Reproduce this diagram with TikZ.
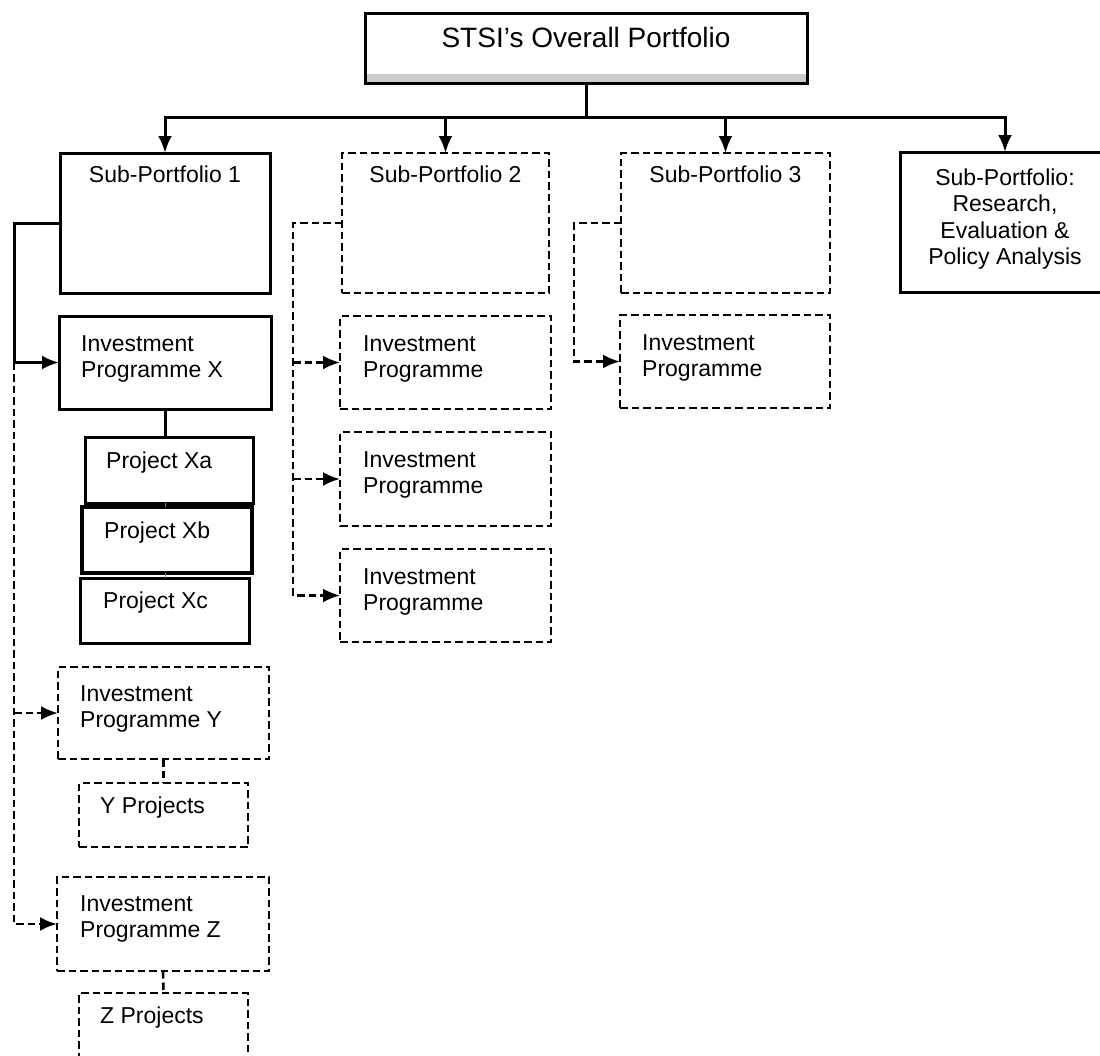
\documentclass[tikz,border=0pt]{standalone}
\usepackage{fontspec}
\setmainfont{Liberation Sans}
\usetikzlibrary{arrows.meta}
\begin{document}
\begin{tikzpicture}[x=1pt,y=-1pt,
  bx/.style 2 args={rectangle, inner sep=0pt, outer sep=0pt, minimum width=#1, minimum height=#2},
  solidln/.style={draw=black, line width=3pt},
  dashln/.style={draw=black, line width=2.6pt, dash pattern=on 7.5pt off 4pt},
  arr/.style={-{Latex[length=17pt,width=14pt]}},
  txt/.style={inner sep=0pt, font=\fontsize{23pt}{26.5pt}\selectfont, align=left},
  ctxt/.style={inner sep=0pt, font=\fontsize{23pt}{26.5pt}\selectfont, align=center}
]
\useasboundingbox (0,0) rectangle (1100,1055);
\clip (0,0) rectangle (1100,1055);

% ---- title
\node[bx={442pt}{70pt}] (title) at (586,48) {};
\fill[gray!40] ([xshift=2pt]title.south west) rectangle ([yshift=9pt]title.south east);
\draw[solidln] (title.south west) rectangle (title.north east);
\node[inner sep=0pt, font=\fontsize{28pt}{32pt}\selectfont, anchor=mid] (titlet) at (586,45) {STSI’s Overall Portfolio};

% ---- sub-portfolios
\node[bx={210pt}{140pt}, solidln] (sub1) at (165,223) {};
\node[bx={207pt}{140pt}, dashln] (sub2) at (445.5,223) {};
\node[bx={209pt}{140pt}, dashln] (sub3) at (725.5,223) {};
\node[bx={210pt}{140pt}, solidln] (res) at (1005,222) {};
\node[ctxt, anchor=mid] (sub1t) at (165,180) {Sub-Portfolio 1};
\node[ctxt, anchor=mid] (sub2t) at (445.5,180) {Sub-Portfolio 2};
\node[ctxt, anchor=mid] (sub3t) at (725.5,180) {Sub-Portfolio 3};
\node[ctxt] (rest) at (1005,219) {Sub-Portfolio:\\Research,\\Evaluation \&\\Policy Analysis};

% ---- programme X column
\node[bx={212pt}{93pt}, solidln] (ipx) at (165,362.5) {};
\node[txt, anchor=west] (ipxt) at (81,359) {Investment\\Programme X};
\node[bx={168pt}{66pt}, solidln] (xa) at (169,470) {};
\node[bx={170pt}{66pt}, solidln, line width=3.4pt] (xb) at (167,540) {};
\node[bx={169pt}{65pt}, solidln] (xc) at (164.5,610.5) {};
\node[txt, anchor=mid west] (xat) at (106,466) {Project Xa};
\node[txt, anchor=mid west] (xbt) at (104,536) {Project Xb};
\node[txt, anchor=mid west] (xct) at (103,606) {Project Xc};

\node[bx={211pt}{92pt}, dashln] (ipy) at (163.5,713) {};
\node[txt, anchor=west] (ipyt) at (80,709) {Investment\\Programme Y};
\node[bx={169pt}{64pt}, dashln] (yp) at (163.5,815) {};
\node[txt, anchor=mid west] (ypt) at (100,811) {Y Projects};

\node[bx={212pt}{94pt}, dashln] (ipz) at (163,924) {};
\node[txt, anchor=west] (ipzt) at (80,919) {Investment\\Programme Z};
\node[bx={169pt}{74pt}, dashln] (zp) at (163.5,1030) {};
\node[txt, anchor=mid west] (zpt) at (100,1021) {Z Projects};

% ---- sub-portfolio 2 programmes
\node[bx={211pt}{93pt}, dashln] (ip2a) at (445.5,362.5) {};
\node[bx={211pt}{94pt}, dashln] (ip2b) at (445.5,479) {};
\node[bx={211pt}{93pt}, dashln] (ip2c) at (445.5,595.5) {};
\node[txt, anchor=west] (ip2at) at (363,359) {Investment\\Programme};
\node[txt, anchor=west] (ip2bt) at (363,475) {Investment\\Programme};
\node[txt, anchor=west] (ip2ct) at (363,592) {Investment\\Programme};

% ---- sub-portfolio 3 programme
\node[bx={210pt}{93pt}, dashln] (ip3) at (725,361.5) {};
\node[txt, anchor=west] (ip3t) at (642,358) {Investment\\Programme};

% ---- connectors from the title
\coordinate (bus) at (586,117);
\draw[solidln] (title.south) -- (bus);
\draw[solidln, arr] (bus) -| (sub1.north);
\draw[solidln, arr] (bus) -| (sub2.north);
\draw[solidln, arr] (bus) -| (sub3.north);
\draw[solidln, arr] (bus) -| (res.north);

% ---- sub-portfolio 1 tree
\coordinate (trunk1) at (14,0);
\draw[solidln, arr] (sub1.west) -- (sub1.west -| trunk1) -- (trunk1 |- ipx.west) -- (ipx.west);
\draw[dashln, arr] (trunk1 |- ipx.west) -- (trunk1 |- ipz.west) -- (ipz.west);
\draw[dashln, arr] (trunk1 |- ipy.west) -- (ipy.west);
\draw[solidln] (ipx.south) -- (ipx.south |- xa.north);
\draw[gray, line width=1pt] (ipx.south |- xa.south) -- (ipx.south |- xb.north);
\draw[gray, line width=1pt] (ipx.south |- xb.south) -- (ipx.south |- xc.north);
\draw[dashln] (ipy.south) -- (yp.north);
\draw[dashln] (ipz.south) -- (zp.north);

% ---- sub-portfolio 2 tree
\coordinate (trunk2) at (293,0);
\draw[dashln, arr] (sub2.west) -| (trunk2 |- ip2c.west) -- (ip2c.west);
\draw[dashln, arr] (trunk2 |- ip2a.west) -- (ip2a.west);
\draw[dashln, arr] (trunk2 |- ip2b.west) -- (ip2b.west);

% ---- sub-portfolio 3 tree
\coordinate (trunk3) at (574,0);
\draw[dashln, arr] (sub3.west) -| (trunk3 |- ip3.west) -- (ip3.west);
\end{tikzpicture}
\end{document}
